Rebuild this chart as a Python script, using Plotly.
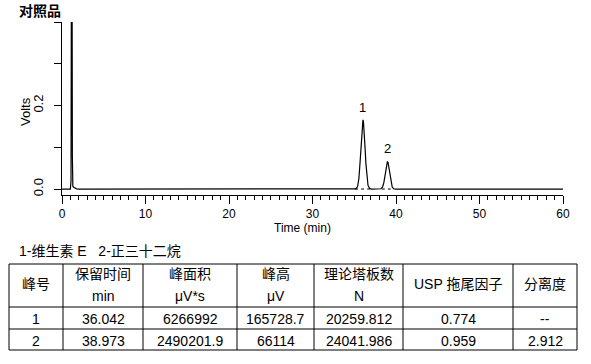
import plotly.graph_objects as go

# ---------------- data ----------------
time_min = [0.0, 1.00, 1.08, 1.12, 1.16, 1.20, 1.24, 1.30, 1.40, 1.55, 1.75, 2.0,
            35.0, 35.2, 35.4, 35.55, 35.7, 35.8, 35.9, 36.0, 36.042, 36.1, 36.2, 36.3,
            36.4, 36.5, 36.65, 36.85, 37.1,
            38.2, 38.4, 38.55, 38.7, 38.8, 38.9, 38.973, 39.05, 39.15, 39.25, 39.4,
            39.55, 39.75, 40.0, 60.0]
volts = [0.0, 0.0, 0.02, 0.30, 0.90, 0.60, 0.08, 0.006, 0.004, 0.002, 0.0005, 0.0,
         0.0, 0.0006, 0.0061, 0.0239, 0.065, 0.1037, 0.141, 0.1634, 0.1657, 0.1613, 0.1357, 0.0973,
         0.0595, 0.0310, 0.0086, 0.0009, 0.0,
         0.0006, 0.0048, 0.0158, 0.0364, 0.052, 0.0633, 0.0661, 0.0631, 0.0514, 0.0358, 0.0154,
         0.0046, 0.0005, 0.0, 0.0]

peak_labels = ["1", "2"]
peak_times = [36.042, 38.973]
peak_heights = [0.1657, 0.0661]
peak_starts = [35.1, 38.3]
peak_ends = [36.85, 39.7]

y_tickvals = [0.0, 0.1, 0.2, 0.3, 0.4]
y_ticktext = ["0.0", "", "0.2", "", ""]

title_text = "对照品"
legend_text = "1-维生素 E   2-正三十二烷"
x_title = "Time (min)"
y_title = "Volts"

header_line1 = ["峰号", "保留时间", "峰面积", "峰高", "理论塔板数", "USP 拖尾因子", "分离度"]
header_line2 = ["", "min", "μV*s", "μV", "N", "", ""]
table_rows = [
    ["1", "36.042", "6266992", "165728.7", "20259.812", "0.774", "--"],
    ["2", "38.973", "2490201.9", "66114", "24041.986", "0.959", "2.912"],
]

# ---------------- layout helpers ----------------
W, H = 591, 364
L, R, T, B = 62, 28, 22, 169
PW, PH = W - L - R, H - T - B


def px(xpix):
    return (xpix - L) / PW


def py(ypix):
    return (H - B - ypix) / PH


FONT = "Liberation Sans, Arial, Noto Sans CJK SC, sans-serif"


def txt(xpix, ypix, text, size=14, xanchor="center", angle=0, family=FONT):
    return dict(x=px(xpix), y=py(ypix), xref="paper", yref="paper", text=text,
                showarrow=False, xanchor=xanchor, yanchor="middle", textangle=angle,
                font=dict(size=size, color="black", family=family))


fig = go.Figure()
fig.add_trace(go.Scatter(x=time_min, y=volts, mode="lines",
                         line=dict(color="black", width=1.2), hoverinfo="skip",
                         showlegend=False))
for s, e in zip(peak_starts, peak_ends):
    fig.add_trace(go.Scatter(x=[s, e], y=[0, 0], mode="lines",
                             line=dict(color="black", width=1, dash="3px,3px"),
                             showlegend=False, hoverinfo="skip"))

annotations = []
for lab, t, h in zip(peak_labels, peak_times, peak_heights):
    annotations.append(dict(x=t, y=h, xref="x", yref="y", text=lab, showarrow=False,
                            xanchor="center", yanchor="bottom", yshift=3,
                            font=dict(size=13, color="black", family=FONT)))

annotations.append(txt(17, 10, "<b>" + title_text + "</b>", size=14, xanchor="left",
                       family="Noto Sans CJK SC, sans-serif"))
annotations.append(txt(17, 251, legend_text, size=14, xanchor="left"))
annotations.append(txt(302, 228, x_title, size=12))
annotations.append(txt(25, 112, y_title, size=13, angle=-90))

# table geometry (pixels)
col_x = [9, 63, 143, 237, 314, 403, 513, 577]
row_y = [264, 307, 329, 350]

shapes = []
for xv in col_x:
    shapes.append(dict(type="line", xref="paper", yref="paper", x0=px(xv), x1=px(xv),
                       y0=py(row_y[0]), y1=py(row_y[-1]), line=dict(color="black", width=1)))
for yv in row_y:
    shapes.append(dict(type="line", xref="paper", yref="paper", x0=px(col_x[0]), x1=px(col_x[-1]),
                       y0=py(yv), y1=py(yv), line=dict(color="black", width=1)))

for i in range(len(header_line1)):
    cx = (col_x[i] + col_x[i + 1]) / 2
    if header_line2[i]:
        annotations.append(txt(cx, 274, header_line1[i]))
        annotations.append(txt(cx, 296, header_line2[i]))
    else:
        annotations.append(txt(cx, 284, header_line1[i]))

row_centers = [319, 341]
for r, row in enumerate(table_rows):
    for i, val in enumerate(row):
        cx = (col_x[i] + col_x[i + 1]) / 2
        annotations.append(txt(cx, row_centers[r], val))

fig.update_layout(
    width=W, height=H, autosize=False,
    margin=dict(l=L, r=R, t=T, b=B, pad=0),
    paper_bgcolor="white", plot_bgcolor="white",
    font=dict(family=FONT, color="black", size=12),
    annotations=annotations, shapes=shapes,
    xaxis=dict(range=[0, 60], showgrid=False, zeroline=False, showline=True, linecolor="black",
               linewidth=1, ticks="outside", ticklen=8, tickcolor="black", dtick=10, tick0=0,
               minor=dict(dtick=1, ticks="outside", ticklen=4, tickcolor="black", showgrid=False),
               tickfont=dict(size=12), automargin=False),
    yaxis=dict(range=[-0.0143, 0.4], showgrid=False, zeroline=False, showline=True, linecolor="black",
               linewidth=1, ticks="outside", ticklen=7, tickcolor="black",
               tickvals=y_tickvals, ticktext=y_ticktext, tickangle=-90, tickfont=dict(size=13),
               ticklabelstandoff=6, automargin=False),
)

fig.write_html("out.html", config={"displayModeBar": False},
               post_script="document.body.style.margin='0';document.body.style.overflow='hidden';")
